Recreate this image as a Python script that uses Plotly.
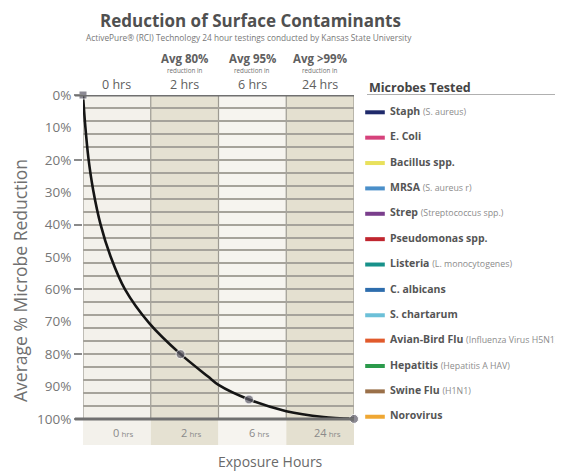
import plotly.graph_objects as go

# ---------------- data ----------------
hour_nums = ["0", "2", "6", "24"]
hour_labels = ["0 hrs", "2 hrs", "6 hrs", "24 hrs"]
avg_labels = ["", "Avg 80%", "Avg 95%", "Avg >99%"]
avg_sub = ["", "reduction in", "reduction in", "reduction in"]

# reduction curve (x in column units 0..4, y in % reduction)
curve_pos = [0, 0.03, 0.08, 0.15, 0.26, 0.41, 0.62, 0.98, 1.44, 1.85, 2.0, 2.45, 3.0, 3.55, 4.0]
curve_pct = [0, 8.7, 19.5, 29.3, 40, 50, 60, 70.5, 80, 87, 89.5, 94, 97.6, 99.4, 100]

# measured points
mark_pos = [0, 1.44, 2.45, 4.0]
mark_pct = [0, 80, 94, 100]

y_ticks = [0, 10, 20, 30, 40, 50, 60, 70, 80, 90, 100]
y_ticktext = [f"{v}%" for v in y_ticks]
y_major_ticks = [0, 20, 40, 60, 80, 100]
y_grid = list(range(4, 100, 4))

microbes = ["Staph", "E. Coli", "Bacillus spp.", "MRSA", "Strep", "Pseudomonas spp.",
            "Listeria", "C. albicans", "S. chartarum", "Avian-Bird Flu", "Hepatitis",
            "Swine Flu", "Norovirus"]
microbe_notes = ["(S. aureus)", "", "", "(S. aureus r)", "(Streptococcus spp.)", "",
                 "(L. monocytogenes)", "", "", "(Influenza Virus H5N1)", "(Hepatitis A HAV)",
                 "(H1N1)", ""]
microbe_colors = ["#1f2a6b", "#d6427b", "#e9e15c", "#4a8fc9", "#7a3e8c", "#c0262f",
                  "#17918a", "#2e6dad", "#6cc0d8", "#e15a2c", "#2b9a4b", "#9a7049", "#efa733"]

# ---------------- styling ----------------
FONT = "Open Sans"
OFF = 8                      # page body margin of the html page
W, H = 563 - OFF, 472 - OFF
L, T = 83 - OFF, 95 - OFF
PW = 480                     # plot+legend width (right margin 0)
R = W - L - PW
PH = 350
B = H - T - PH
plot_right_px = 354          # reference pixel of right edge of plot
x_dom_end = (plot_right_px - 83) / PW
band_bottom = 108.05         # y range extends under 100% for the label band
col_colors = ["#f3f1eb", "#e5e1d2", "#f6f4ef", "#e4e0d0"]


def py(px):  # paper y from reference pixel y
    return 1 - (px - 95) / PH


def pxx(px):  # paper x from reference pixel x
    return (px - 83) / PW


fig = go.Figure()

fig.add_trace(go.Scatter(
    x=curve_pos, y=curve_pct, mode="lines",
    line=dict(color="#151515", width=2.6, shape="spline", smoothing=0.8),
    hoverinfo="skip", showlegend=False, cliponaxis=False))

fig.add_trace(go.Scatter(
    x=mark_pos, y=mark_pct, mode="markers",
    marker=dict(color="#5c5a68", size=[8, 9, 9, 9],
                symbol=["square", "circle", "circle", "circle"]),
    hoverinfo="skip", showlegend=False, cliponaxis=False))

# helper traces so the overlaying axes (ticks / grid) are drawn
for ax in ("y2", "y3"):
    fig.add_trace(go.Scatter(x=[None], y=[None], mode="lines", yaxis=ax,
                             hoverinfo="skip", showlegend=False))

# legend (own subplot)
n = len(microbes)
leg_text = []
for name, note in zip(microbes, microbe_notes):
    t = f"<b>{name}</b>"
    if note:
        t += f" <span style='font-size:8.8px;color:#8c8c8c'>{note}</span>"
    leg_text.append(t)

fig.add_trace(go.Scatter(
    x=[0] * n, y=list(range(n)), mode="markers",
    marker=dict(symbol="line-ew", size=14, line=dict(width=4, color=microbe_colors)),
    xaxis="x4", yaxis="y4", hoverinfo="skip", showlegend=False, cliponaxis=False))
fig.add_trace(go.Scatter(
    x=[0.08] * n, y=list(range(n)), mode="text", text=leg_text,
    textposition="middle right",
    textfont=dict(family=FONT, size=10.5, color="#555555"),
    xaxis="x4", yaxis="y4", hoverinfo="skip", showlegend=False, cliponaxis=False))

shapes = []
for i, c in enumerate(col_colors):
    shapes.append(dict(type="rect", xref="x", yref="paper", x0=i, x1=i + 1, y0=0, y1=1,
                       fillcolor=c, line=dict(width=0), layer="below"))
for i in range(5):
    shapes.append(dict(type="line", xref="x", yref="y", x0=i, x1=i, y0=0, y1=100,
                       line=dict(color="#9d9a92", width=1.2), layer="below"))
for yv in (0, 100):
    shapes.append(dict(type="line", xref="x domain", yref="y", x0=-0.03, x1=1, y0=yv, y1=yv,
                       line=dict(color="#707070", width=3), layer="above"))
shapes.append(dict(type="line", xref="paper", yref="paper", x0=pxx(367), x1=1,
                   y0=py(94.5), y1=py(94.5), line=dict(color="#b0b0b0", width=1)))

ann = []
ann.append(dict(text="<b>Reduction of Surface Contaminants</b>", xref="paper", yref="paper",
                x=pxx(250), y=py(20), showarrow=False, yanchor="middle",
                font=dict(family=FONT, size=17, color="#505050")))
ann.append(dict(text="ActivePure® (RCI) Technology 24 hour testings conducted by Kansas State University",
                xref="paper", yref="paper", x=pxx(249), y=py(37), showarrow=False,
                yanchor="middle", font=dict(family=FONT, size=8.3, color="#777777")))
for i in range(4):
    ann.append(dict(text=hour_labels[i], xref="x", yref="paper", x=i + 0.5, y=py(84),
                    showarrow=False, yanchor="middle",
                    font=dict(family=FONT, size=12.5, color="#606060")))
    if avg_labels[i]:
        ann.append(dict(text=f"<b>{avg_labels[i]}</b>", xref="x", yref="paper", x=i + 0.5,
                        y=py(58.5), showarrow=False, yanchor="middle",
                        font=dict(family=FONT, size=11.5, color="#606060")))
        ann.append(dict(text=avg_sub[i], xref="x", yref="paper", x=i + 0.5, y=py(70.8),
                        showarrow=False, yanchor="middle",
                        font=dict(family=FONT, size=6.3, color="#707070")))
    ann.append(dict(text=f"{hour_nums[i]}<span style='font-size:8px'> hrs</span>",
                    xref="x", yref="y", x=i + 0.5, y=104.2, xshift=7, showarrow=False,
                    yanchor="middle", font=dict(family=FONT, size=11, color="#8a8a8a")))
ann.append(dict(text="Exposure Hours", xref="paper", yref="paper", x=pxx(216), y=py(461),
                showarrow=False, yanchor="middle",
                font=dict(family=FONT, size=14, color="#6a6a6a")))
ann.append(dict(text="Average % Microbe Reduction", xref="paper", yref="paper", x=pxx(20),
                y=py(281), showarrow=False, textangle=-90, xanchor="center", yanchor="middle",
                font=dict(family=FONT, size=17.5, color="#707070")))
ann.append(dict(text="<b>Microbes Tested</b>", xref="paper", yref="paper", x=pxx(367),
                y=py(87.5), xanchor="left", yanchor="middle", showarrow=False,
                font=dict(family=FONT, size=12.5, color="#444444")))

yr = [band_bottom, 0]
leg_top = -((112.3 - 95) / 25.37)
leg_bot = (445 - 112.3) / 25.37

fig.update_layout(
    width=W, height=H,
    margin=dict(l=L, r=R, t=T, b=B, pad=0, autoexpand=False),
    paper_bgcolor="white", plot_bgcolor="rgba(0,0,0,0)",
    font=dict(family=FONT, color="#666666"),
    showlegend=False,
    xaxis=dict(domain=[0, x_dom_end], range=[0, 4], showgrid=False, zeroline=False,
               showticklabels=False, ticks="", fixedrange=True),
    yaxis=dict(domain=[0, 1], range=yr, tickvals=y_ticks, ticktext=y_ticktext,
               ticks="outside", ticklen=8, tickcolor="rgba(0,0,0,0)", showgrid=False,
               zeroline=False, tickfont=dict(family=FONT, size=13.5, color="#777777"),
               fixedrange=True),
    yaxis2=dict(overlaying="y", anchor="x", range=yr, tickvals=y_major_ticks,
                ticks="outside", ticklen=8, tickwidth=1.5, tickcolor="#8a8a8a",
                showticklabels=False, showgrid=False, zeroline=False, fixedrange=True),
    yaxis3=dict(overlaying="y", anchor="x", range=yr, tickvals=y_grid,
                ticks="", showticklabels=False, showgrid=True, gridcolor="#a6a39b",
                gridwidth=1.6, zeroline=False, fixedrange=True),
    xaxis4=dict(domain=[pxx(375), 1], range=[0, 1], visible=False, anchor="y4",
                fixedrange=True),
    yaxis4=dict(domain=[0, 1], range=[leg_bot, leg_top], visible=False, anchor="x4",
                fixedrange=True),
    shapes=shapes, annotations=ann,
)

fig.write_html("out.html")
